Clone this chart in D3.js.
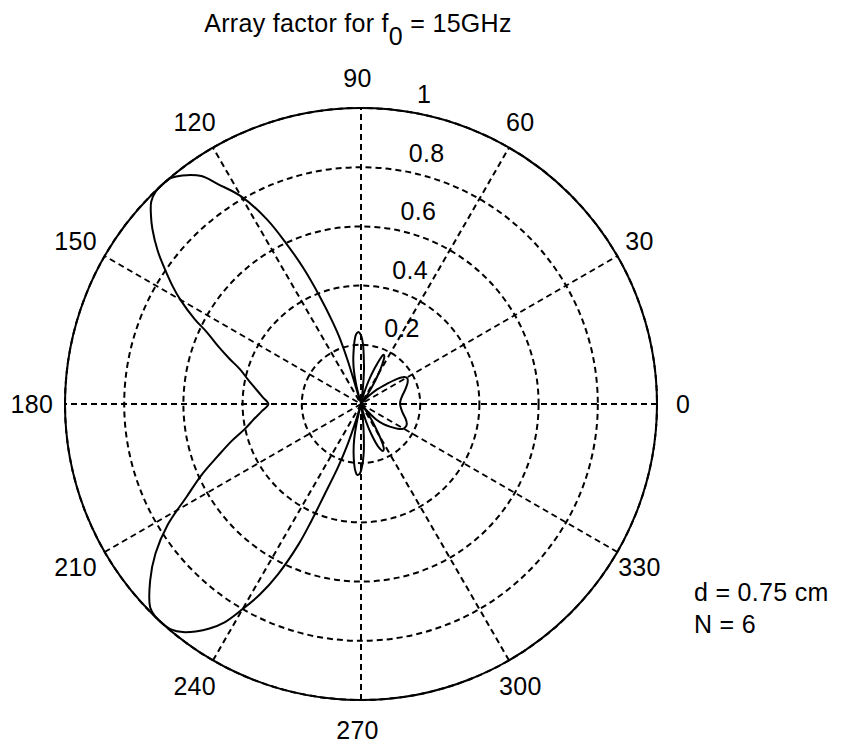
<!DOCTYPE html>
<html>
<head>
<meta charset="utf-8">
<script src="https://cdn.jsdelivr.net/npm/d3@7"></script>
<style>
  html, body { margin: 0; padding: 0; background: #fff; }
  svg { display: block; font-family: "Liberation Sans", Arial, Helvetica, sans-serif; }
  text { fill: #000; font-size: 25px; letter-spacing: 0.3px; }
</style>
</head>
<body>
<svg id="chart" width="843" height="746"></svg>
<script>
// Normalised array factor |AF| against angle (degrees, counter-clockwise from 0)
const theta = [
  0, 5, 10, 15, 20, 25, 29, 32, 35, 38, 42, 46, 50, 52,
  54, 57, 60, 62, 64, 65.5, 67, 69, 71, 73, 76, 78,
  81, 83, 85, 86, 88, 90, 92, 94, 96, 98, 100, 102, 104, 106,
  107, 108, 109, 111, 113, 115, 117, 120, 123, 125, 128, 130, 132, 134, 136, 138, 140,
  143, 145, 148, 150, 153, 155, 158, 161, 164, 168, 172, 176, 180,
  184, 188, 192, 196, 200, 204, 208, 212, 216, 220, 224, 226, 228, 230, 232, 234, 236,
  238, 240, 242, 244, 246, 247, 248, 250, 251.5, 253, 254,
  257, 259, 261, 263, 265, 267, 269, 271, 273, 274, 276, 278, 279.5,
  283, 286, 289, 292, 295, 297, 299, 301, 304, 307, 309,
  312, 314.5, 318, 322, 326, 330, 334, 337, 342, 347, 352, 356
];
const af = [
  0.132, 0.134, 0.140, 0.150, 0.162, 0.174, 0.179, 0.172, 0.145, 0.110, 0.075, 0.040, 0.010, 0,
  0.020, 0.065, 0.120, 0.155, 0.180, 0.183, 0.165, 0.130, 0.095, 0.060, 0.020, 0,
  0, 0.050, 0.115, 0.140, 0.200, 0.232, 0.243, 0.236, 0.212, 0.180, 0.150, 0.115, 0.065, 0,
  0.150, 0.240, 0.290, 0.390, 0.500, 0.600, 0.700, 0.810, 0.885, 0.940, 0.980, 0.997, 1.000, 0.998, 0.985, 0.955, 0.920,
  0.860, 0.815, 0.750, 0.705, 0.630, 0.575, 0.520, 0.470, 0.425, 0.389, 0.358, 0.333, 0.313,
  0.335, 0.365, 0.400, 0.455, 0.515, 0.590, 0.667, 0.770, 0.858, 0.930, 0.990, 1.000, 1.000, 0.995, 0.978, 0.950, 0.915,
  0.870, 0.800, 0.730, 0.640, 0.520, 0.430, 0.335, 0.228, 0.152, 0.055, 0,
  0.060, 0.120, 0.160, 0.195, 0.225, 0.240, 0.235, 0.210, 0.170, 0.140, 0.080, 0.030, 0,
  0.015, 0.060, 0.110, 0.155, 0.175, 0.170, 0.145, 0.105, 0.060, 0.020, 0,
  0.035, 0.076, 0.100, 0.124, 0.150, 0.166, 0.170, 0.168, 0.158, 0.146, 0.138, 0.134
];

// Polar grid ticks
const angleTicks = [0, 30, 60, 90, 120, 150, 180, 210, 240, 270, 300, 330];
const spokeAngles = [30, 60, 90, 120, 150, 180];
const radialTicks = [0.2, 0.4, 0.6, 0.8, 1];
const radialTickLabels = ["0.2", "0.4", "0.6", "0.8", "1"];

// Title and annotation text
const titleParts = ["Array factor for f", "0", " = 15GHz"];
const noteLines = ["d = 0.75 cm", "N = 6"];

const svg = d3.select("#chart");
const cx = 361, cy = 404, R = 296;

const r = d3.scaleLinear().domain([0, 1]).range([0, R]);
// math angle (deg, CCW from east) -> d3 radial angle (rad, clockwise from north)
const a = d3.scaleLinear().domain([0, 360]).range([Math.PI / 2, Math.PI / 2 - 2 * Math.PI]);
const rad = d => d * Math.PI / 180;

const g = svg.append("g").attr("transform", `translate(${cx},${cy})`);

// solid outer boundary
g.append("circle").attr("r", r(1))
  .attr("fill", "#fff").attr("stroke", "#000").attr("stroke-width", 2);

// dashed range rings
g.selectAll("circle.ring").data(radialTicks).join("circle")
  .attr("class", "ring")
  .attr("r", d => r(d))
  .attr("fill", "none").attr("stroke", "#000").attr("stroke-width", 2)
  .attr("stroke-dasharray", "6,4");

// dashed spokes through the centre
g.selectAll("line.spoke").data(spokeAngles).join("line")
  .attr("class", "spoke")
  .attr("x1", d => -r(1) * Math.cos(rad(d)))
  .attr("y1", d => r(1) * Math.sin(rad(d)))
  .attr("x2", d => r(1) * Math.cos(rad(d)))
  .attr("y2", d => -r(1) * Math.sin(rad(d)))
  .attr("stroke", "#000").attr("stroke-width", 2)
  .attr("stroke-dasharray", "6,4");

// radial tick labels along the 82 degree direction
const c82 = Math.cos(rad(82)), s82 = Math.sin(rad(82));
g.selectAll("text.rlab").data(radialTicks).join("text")
  .attr("class", "rlab")
  .attr("x", d => r(d + 0.01) * c82)
  .attr("y", d => -r(d + 0.01) * s82 - 5)
  .attr("xml:space", "preserve")
  .style("white-space", "pre")
  .text((d, i) => "  " + radialTickLabels[i]);

// angle labels outside the boundary
g.selectAll("text.alab").data(angleTicks).join("text")
  .attr("class", "alab")
  .attr("x", d => r(1.1) * Math.cos(rad(d)) - 3.5)
  .attr("y", d => -r(1.1) * Math.sin(rad(d)))
  .attr("text-anchor", "middle")
  .attr("dominant-baseline", "central")
  .text(d => String(d));

// array factor trace
const pts = theta.map((t, i) => ({ t, v: af[i] }));
const radial = d3.lineRadial()
  .angle(d => a(d.t))
  .radius(d => r(d.v))
  .curve(d3.curveCatmullRomClosed.alpha(0.5));
g.append("path").datum(pts)
  .attr("d", radial)
  .attr("fill", "none").attr("stroke", "#000").attr("stroke-width", 2)
  .attr("stroke-linejoin", "round");

// title with subscript
const title = svg.append("text").attr("x", 358).attr("y", 32).attr("text-anchor", "middle");
title.append("tspan").text(titleParts[0]);
title.append("tspan").attr("dy", 13).text(titleParts[1]);
title.append("tspan").attr("dy", -13).text(titleParts[2]);

// parameter annotation
svg.selectAll("text.note").data(noteLines).join("text")
  .attr("class", "note")
  .attr("x", 694)
  .attr("y", (d, i) => 601 + i * 32)
  .text(d => d);
</script>
</body>
</html>
